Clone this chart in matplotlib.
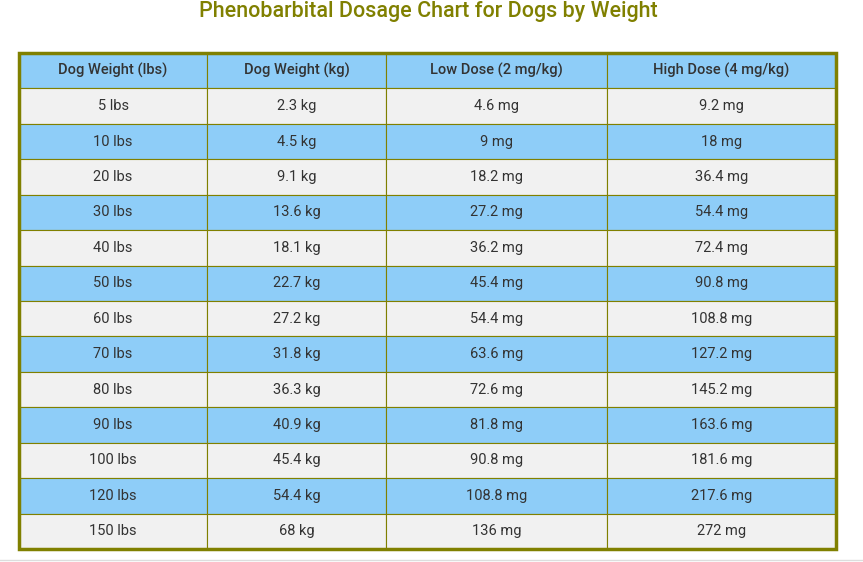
import matplotlib
matplotlib.use("Agg")
import matplotlib.pyplot as plt
from matplotlib.patches import Rectangle

title = "Phenobarbital Dosage Chart for Dogs by Weight"
headers = ["Dog Weight (lbs)", "Dog Weight (kg)", "Low Dose (2 mg/kg)", "High Dose (4 mg/kg)"]
weight_lbs = ["5 lbs", "10 lbs", "20 lbs", "30 lbs", "40 lbs", "50 lbs", "60 lbs", "70 lbs",
              "80 lbs", "90 lbs", "100 lbs", "120 lbs", "150 lbs"]
weight_kg = ["2.3 kg", "4.5 kg", "9.1 kg", "13.6 kg", "18.1 kg", "22.7 kg", "27.2 kg", "31.8 kg",
             "36.3 kg", "40.9 kg", "45.4 kg", "54.4 kg", "68 kg"]
low_dose = ["4.6 mg", "9 mg", "18.2 mg", "27.2 mg", "36.2 mg", "45.4 mg", "54.4 mg", "63.6 mg",
            "72.6 mg", "81.8 mg", "90.8 mg", "108.8 mg", "136 mg"]
high_dose = ["9.2 mg", "18 mg", "36.4 mg", "54.4 mg", "72.4 mg", "90.8 mg", "108.8 mg", "127.2 mg",
             "145.2 mg", "163.6 mg", "181.6 mg", "217.6 mg", "272 mg"]

W, H = 863, 562
fig = plt.figure(figsize=(W/100, H/100), dpi=100)
ax = fig.add_axes([0, 0, 1, 1])
ax.set_xlim(0, W); ax.set_ylim(H, 0); ax.axis("off")

olive = "#808000"
blue = "#8ecdf8"
grey = "#f1f1f1"
cols_x = [19, 207, 386, 607, 836]
top, bottom = 53, 549
rows = [headers] + [list(r) for r in zip(weight_lbs, weight_kg, low_dose, high_dose)]
rh = (bottom - top) / len(rows)

ax.text(W/2 - 3, 12, title, ha="center", va="center", fontsize=15.5, color=olive,
        fontfamily="Roboto", fontweight="medium")

for i, row in enumerate(rows):
    y0 = top + i * rh
    fc = blue if i % 2 == 0 else grey
    for j, val in enumerate(row):
        x0, x1 = cols_x[j], cols_x[j+1]
        ax.add_patch(Rectangle((x0, y0), x1 - x0, rh, facecolor=fc, edgecolor=olive, lw=0.8))
        ax.text((x0 + x1) / 2, y0 + rh / 2, val, ha="center", va="center", fontsize=10.5,
                color="#333333", fontfamily="Roboto",
                fontweight="medium" if i == 0 else "normal")

ax.add_patch(Rectangle((cols_x[0], top), cols_x[-1] - cols_x[0], bottom - top,
                       facecolor="none", edgecolor=olive, lw=2.5))
ax.plot([0, W], [560, 560], color="#dddddd", lw=1)

fig.savefig("out.png", dpi=100)
